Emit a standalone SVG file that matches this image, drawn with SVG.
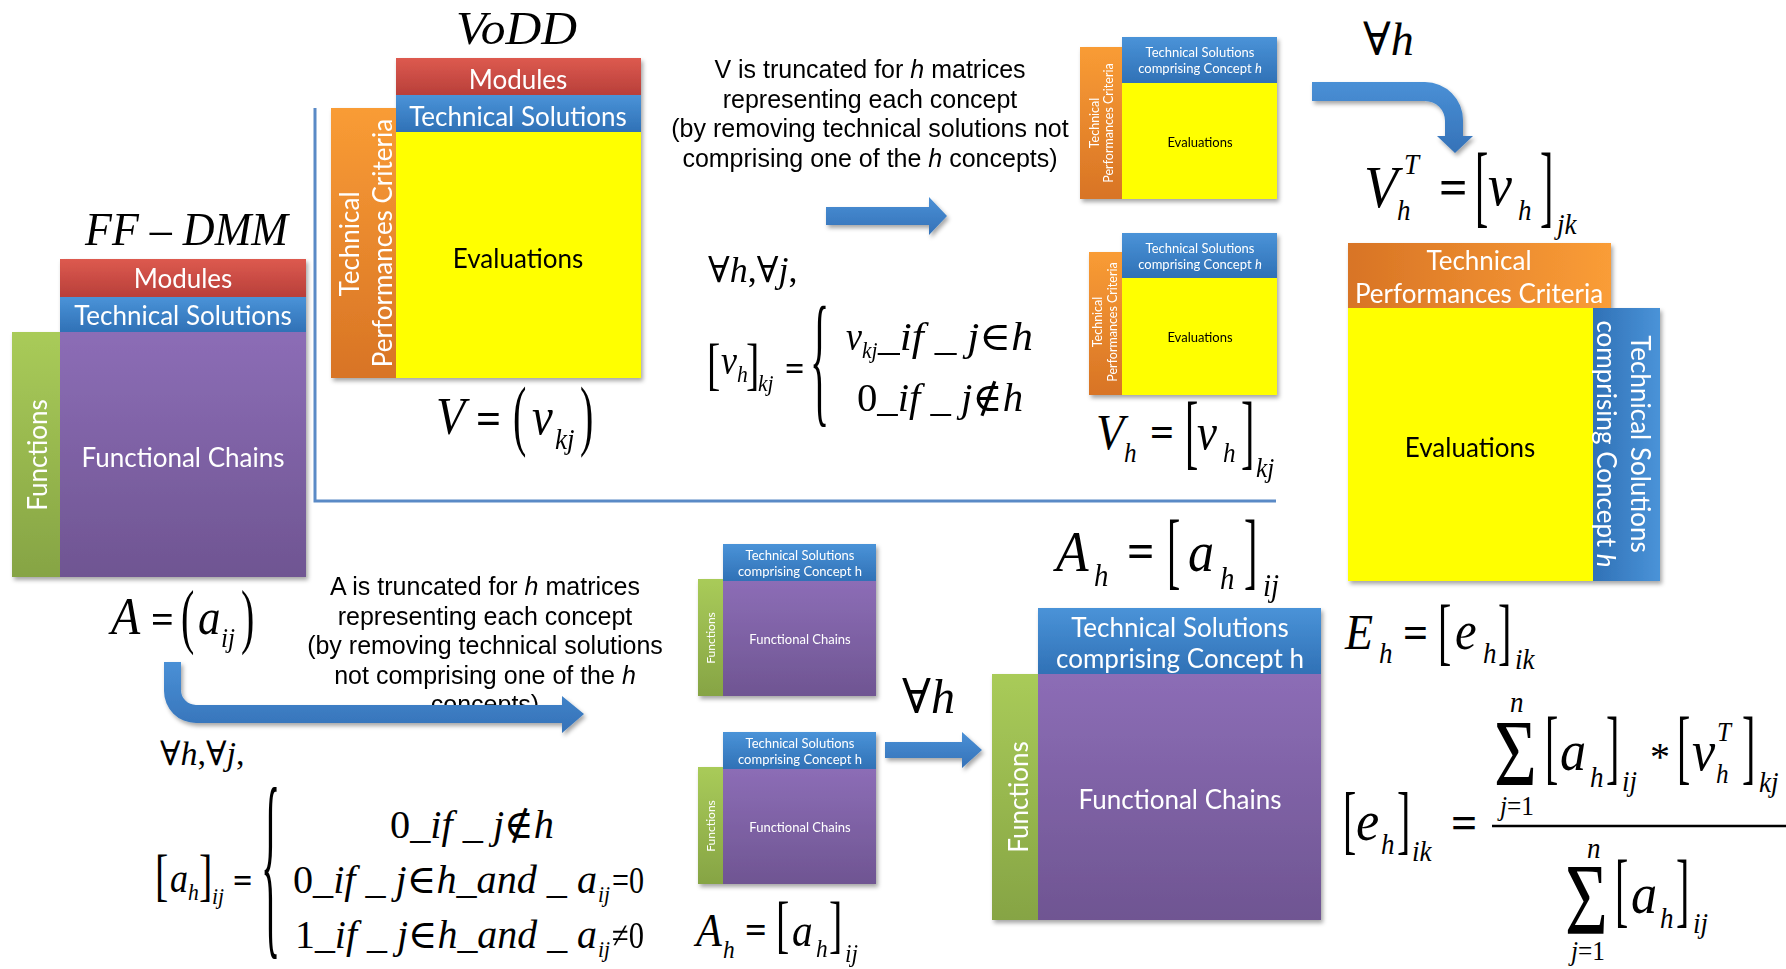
<svg xmlns="http://www.w3.org/2000/svg" width="1786" height="969" viewBox="0 0 1786 969">
<defs>
<style>
.bl{font-family:Lato,"Open Sans","Liberation Sans",sans-serif;fill:#fff;text-anchor:middle}
.bk{fill:#000}
.tx{font-family:"Liberation Sans",Arial,sans-serif;font-size:25px;fill:#000;text-anchor:middle}
.mi{font-family:"Liberation Serif","DejaVu Serif",serif;font-style:italic;fill:#000}
.mu{font-family:"Liberation Serif","DejaVu Serif",serif;fill:#000}
.eq{font-family:"Liberation Serif","DejaVu Serif",serif;font-weight:bold;fill:#000}
.d{font-family:"Liberation Serif","DejaVu Serif",serif;font-size:40px;fill:#000}
.it{font-style:italic}
.arrow{fill:url(#gArrow);filter:url(#sh)}
</style>
<linearGradient id="gRed" x1="0" y1="0" x2="0" y2="1"><stop offset="0" stop-color="#dd5a4f"/><stop offset="1" stop-color="#b83f3a"/></linearGradient>
<linearGradient id="gBlue" x1="0" y1="0" x2="0" y2="1"><stop offset="0" stop-color="#4a93d8"/><stop offset="1" stop-color="#3071b6"/></linearGradient>
<linearGradient id="gBlueH" x1="0" y1="0" x2="1" y2="0"><stop offset="0" stop-color="#3071b6"/><stop offset="1" stop-color="#4a93d8"/></linearGradient>
<linearGradient id="gPurple" x1="0" y1="0" x2="0" y2="1"><stop offset="0" stop-color="#8c6db6"/><stop offset="1" stop-color="#6f5592"/></linearGradient>
<linearGradient id="gGreen" x1="0" y1="0" x2="0" y2="1"><stop offset="0" stop-color="#a9cb59"/><stop offset="1" stop-color="#86a444"/></linearGradient>
<linearGradient id="gOrange" x1="0" y1="0" x2="0" y2="1"><stop offset="0" stop-color="#f99c35"/><stop offset="1" stop-color="#d87425"/></linearGradient>
<linearGradient id="gOrangeH" x1="0" y1="0" x2="1" y2="0"><stop offset="0" stop-color="#d87425"/><stop offset="1" stop-color="#fa9d37"/></linearGradient>
<linearGradient id="gArrow" x1="0" y1="0" x2="0" y2="1"><stop offset="0" stop-color="#4a90d6"/><stop offset="1" stop-color="#3572b8"/></linearGradient>
<filter id="sh" x="-10%" y="-10%" width="130%" height="130%"><feDropShadow dx="2" dy="3" stdDeviation="2" flood-color="#000" flood-opacity="0.35"/></filter>
</defs>
<rect width="1786" height="969" fill="#fff"/>

<!-- frame line -->
<polyline points="315,108 315,501 1276,501" fill="none" stroke="#5a8ac6" stroke-width="3"/>

<!-- FF-DMM block -->
<g id="ff-dmm" filter="url(#sh)">
<rect x="60" y="259" width="246" height="38" fill="url(#gRed)"/>
<rect x="60" y="297" width="246" height="35" fill="url(#gBlue)"/>
<rect x="12" y="332" width="48" height="245" fill="url(#gGreen)"/>
<rect x="60" y="332" width="246" height="245" fill="url(#gPurple)"/>
<text class="bl" font-size="26" x="183" y="288">Modules</text>
<text class="bl" font-size="26" x="183" y="325">Technical Solutions</text>
<text class="bl" font-size="26" x="183" y="467">Functional Chains</text>
<text class="bl" font-size="26" transform="translate(47 455) rotate(-90)">Functions</text>
</g>

<!-- VoDD block -->
<g id="vodd" filter="url(#sh)">
<rect x="396" y="58" width="245" height="37" fill="url(#gRed)"/>
<rect x="396" y="95" width="245" height="37" fill="url(#gBlue)"/>
<rect x="331" y="108" width="65" height="270" fill="url(#gOrange)"/>
<rect x="396" y="132" width="245" height="246" fill="#ffff00"/>
<text class="bl" font-size="26" x="518" y="89">Modules</text>
<text class="bl" font-size="26" x="518" y="126">Technical Solutions</text>
<text class="bl bk" font-size="26" x="518" y="268">Evaluations</text>
<text class="bl" font-size="26" transform="translate(359 244) rotate(-90)">Technical</text>
<text class="bl" font-size="26" transform="translate(392 243) rotate(-90)">Performances Criteria</text>
</g>

<!-- small VoDD h blocks -->
<g id="vodd-h1" filter="url(#sh)">
<rect x="1122" y="37" width="155" height="46" fill="url(#gBlue)"/>
<rect x="1080" y="47" width="42" height="152" fill="url(#gOrange)"/>
<rect x="1122" y="83" width="155" height="116" fill="#ffff00"/>
<text class="bl" font-size="13" x="1200" y="57">Technical Solutions</text>
<text class="bl" font-size="13" x="1200" y="73">comprising Concept <tspan class="it">h</tspan></text>
<text class="bl bk" font-size="13" x="1200" y="147">Evaluations</text>
<text class="bl" font-size="12.5" transform="translate(1099 123) rotate(-90)">Technical</text>
<text class="bl" font-size="12.5" transform="translate(1113 123) rotate(-90)">Performances Criteria</text>
</g>
<g id="vodd-h2" filter="url(#sh)">
<rect x="1122" y="233" width="155" height="45" fill="url(#gBlue)"/>
<rect x="1089" y="252" width="33" height="143" fill="url(#gOrange)"/>
<rect x="1122" y="278" width="155" height="117" fill="#ffff00"/>
<text class="bl" font-size="13" x="1200" y="253">Technical Solutions</text>
<text class="bl" font-size="13" x="1200" y="269">comprising Concept <tspan class="it">h</tspan></text>
<text class="bl bk" font-size="13" x="1200" y="342">Evaluations</text>
<text class="bl" font-size="12.5" transform="translate(1102 322) rotate(-90)">Technical</text>
<text class="bl" font-size="12.5" transform="translate(1117 322) rotate(-90)">Performances Criteria</text>
</g>

<!-- transposed block -->
<g id="vodd-t" filter="url(#sh)">
<rect x="1348" y="243" width="263" height="65" fill="url(#gOrangeH)"/>
<rect x="1348" y="308" width="245" height="273" fill="#ffff00"/>
<rect x="1593" y="308" width="67" height="273" fill="url(#gBlueH)"/>
<text class="bl" font-size="26" x="1479" y="270">Technical</text>
<text class="bl" font-size="26" x="1479" y="303">Performances Criteria</text>
<text class="bl bk" font-size="26" x="1470" y="457">Evaluations</text>
<text class="bl" font-size="26" transform="translate(1631 444) rotate(90)">Technical Solutions</text>
<text class="bl" font-size="26" transform="translate(1597 444) rotate(90)">comprising Concept <tspan class="it">h</tspan></text>
</g>

<!-- small FF h blocks -->
<g id="ff-h1" filter="url(#sh)">
<rect x="723" y="544" width="153" height="37" fill="url(#gBlue)"/>
<rect x="698" y="579" width="25" height="117" fill="url(#gGreen)"/>
<rect x="723" y="581" width="153" height="115" fill="url(#gPurple)"/>
<text class="bl" font-size="13" x="800" y="560">Technical Solutions</text>
<text class="bl" font-size="13" x="800" y="576">comprising Concept h</text>
<text class="bl" font-size="13" x="800" y="644">Functional Chains</text>
<text class="bl" font-size="12" transform="translate(715 638) rotate(-90)">Functions</text>
</g>
<g id="ff-h2" filter="url(#sh)">
<rect x="723" y="732" width="153" height="37" fill="url(#gBlue)"/>
<rect x="698" y="767" width="25" height="117" fill="url(#gGreen)"/>
<rect x="723" y="769" width="153" height="115" fill="url(#gPurple)"/>
<text class="bl" font-size="13" x="800" y="748">Technical Solutions</text>
<text class="bl" font-size="13" x="800" y="764">comprising Concept h</text>
<text class="bl" font-size="13" x="800" y="832">Functional Chains</text>
<text class="bl" font-size="12" transform="translate(715 826) rotate(-90)">Functions</text>
</g>

<!-- big FF h block -->
<g id="ff-h" filter="url(#sh)">
<rect x="1038" y="608" width="283" height="66" fill="url(#gBlue)"/>
<rect x="992" y="674" width="46" height="246" fill="url(#gGreen)"/>
<rect x="1038" y="674" width="283" height="246" fill="url(#gPurple)"/>
<text class="bl" font-size="26" x="1180" y="637">Technical Solutions</text>
<text class="bl" font-size="26" x="1180" y="668">comprising Concept h</text>
<text class="bl" font-size="26" x="1180" y="809">Functional Chains</text>
<text class="bl" font-size="26" transform="translate(1028 797) rotate(-90)">Functions</text>
</g>

<!-- explanatory texts -->
<g id="note-v">
<text class="tx" x="870" y="78">V is truncated for <tspan class="it">h</tspan> matrices</text>
<text class="tx" x="870" y="107.5">representing each concept</text>
<text class="tx" x="870" y="137">(by removing technical solutions not</text>
<text class="tx" x="870" y="166.5">comprising one of the <tspan class="it">h</tspan> concepts)</text>
</g>
<g id="note-a">
<text class="tx" x="485" y="595">A is truncated for <tspan class="it">h</tspan> matrices</text>
<text class="tx" x="485" y="624.5">representing each concept</text>
<text class="tx" x="485" y="654">(by removing technical solutions</text>
<text class="tx" x="485" y="683.5">not comprising one of the <tspan class="it">h</tspan></text>
<text class="tx" x="485" y="713">concepts)</text>
</g>

<!-- titles -->
<text id="t-ffdmm" class="mi" font-size="46" x="85" y="245" textLength="203" lengthAdjust="spacingAndGlyphs">FF – DMM</text>
<text id="t-vodd" class="mi" font-size="46" x="456" y="44" textLength="121" lengthAdjust="spacingAndGlyphs">VoDD</text>

<!-- V = (v_kj) -->
<g id="f-V">
<text class="mi" font-size="52" transform="translate(436 434) scale(.92 1)">V</text>
<text class="eq" font-size="44" x="476" y="433">=</text>
<text class="d" transform="translate(513 441) scale(1 1.94)">(</text>
<text class="mi" font-size="52" transform="translate(532 434) scale(.9 1)">v</text>
<text class="mi" font-size="30" transform="translate(555 449) scale(.9 1)">kj</text>
<text class="d" transform="translate(580 441) scale(1 1.94)">)</text>
</g>

<!-- A = (a_ij) -->
<g id="f-A">
<text class="mi" font-size="52" transform="translate(111 634) scale(.92 1)">A</text>
<text class="eq" font-size="40" x="151" y="633">=</text>
<text class="d" transform="translate(181 640) scale(1 1.78)">(</text>
<text class="mi" font-size="50" transform="translate(198 634) scale(.9 1)">a</text>
<text class="mi" font-size="28" transform="translate(221 647) scale(.9 1)">ij</text>
<text class="d" transform="translate(241 640) scale(1 1.78)">)</text>
</g>

<!-- top case formula -->
<g id="f-vh-cases">
<text class="mu" font-size="36" x="708" y="282">∀<tspan class="it">h</tspan>,∀<tspan class="it">j</tspan>,</text>
<text class="d" transform="translate(707 383) scale(1 1.44)">[</text>
<text class="mi" font-size="40" transform="translate(721 374) scale(.9 1)">v</text>
<text class="mi" font-size="24" transform="translate(737 382) scale(.9 1)">h</text>
<text class="d" transform="translate(746 383) scale(1 1.44)">]</text>
<text class="mi" font-size="24" transform="translate(758 391) scale(.9 1)">kj</text>
<text class="eq" font-size="34" x="785" y="380">=</text>
<text class="d" transform="translate(810 407) scale(1 3.63)">{</text>
<text class="mi" font-size="40" transform="translate(846 350) scale(.9 1)">v</text>
<text class="mi" font-size="24" transform="translate(862 358) scale(.9 1)">kj</text>
<text class="mi" font-size="40" x="878" y="350" textLength="155" lengthAdjust="spacingAndGlyphs">_if _ j<tspan class="mu" font-style="normal">∈</tspan>h</text>
<text class="mi" font-size="40" x="857" y="411" textLength="166" lengthAdjust="spacingAndGlyphs"><tspan font-style="normal">0</tspan>_if _ j<tspan font-style="normal">∉</tspan>h</text>
</g>

<!-- V_h = [v_h]_kj -->
<g id="f-Vh">
<text class="mi" font-size="50" transform="translate(1096 449) scale(.92 1)">V</text>
<text class="mi" font-size="28" transform="translate(1124 462) scale(.9 1)">h</text>
<text class="eq" font-size="42" x="1150" y="446">=</text>
<text class="d" transform="translate(1185 459) scale(1 2.05)">[</text>
<text class="mi" font-size="50" transform="translate(1197 449) scale(.9 1)">v</text>
<text class="mi" font-size="28" transform="translate(1223 462) scale(.9 1)">h</text>
<text class="d" transform="translate(1241 459) scale(1 2.05)">]</text>
<text class="mi" font-size="28" transform="translate(1256 477) scale(.9 1)">kj</text>
</g>

<!-- forall h top -->
<text id="f-forall1" class="mu" font-size="46" x="1363" y="55">∀<tspan class="it">h</tspan></text>

<!-- V_h^T -->
<g id="f-VhT">
<text class="mi" font-size="60" transform="translate(1364 207) scale(.92 1)">V</text>
<text class="mi" font-size="30" transform="translate(1404 174) scale(.9 1)">T</text>
<text class="mi" font-size="30" transform="translate(1397 220) scale(.9 1)">h</text>
<text class="eq" font-size="50" x="1439" y="204">=</text>
<text class="d" transform="translate(1475 216) scale(1 2.26)">[</text>
<text class="mi" font-size="60" transform="translate(1488 205) scale(.9 1)">v</text>
<text class="mi" font-size="30" transform="translate(1518 220) scale(.9 1)">h</text>
<text class="d" transform="translate(1540 216) scale(1 2.26)">]</text>
<text class="mi" font-size="30" transform="translate(1557 234) scale(.9 1)">jk</text>
</g>

<!-- E_h -->
<g id="f-Eh">
<text class="mi" font-size="50" transform="translate(1345 649) scale(.92 1)">E</text>
<text class="mi" font-size="30" transform="translate(1379 663) scale(.9 1)">h</text>
<text class="eq" font-size="44" x="1403" y="647">=</text>
<text class="d" transform="translate(1438 656) scale(1 1.87)">[</text>
<text class="mi" font-size="54" transform="translate(1455 649) scale(.9 1)">e</text>
<text class="mi" font-size="30" transform="translate(1483 663) scale(.9 1)">h</text>
<text class="d" transform="translate(1498 656) scale(1 1.87)">]</text>
<text class="mi" font-size="30" transform="translate(1515 669) scale(.9 1)">ik</text>
</g>

<!-- A_h big -->
<g id="f-Ah-big">
<text class="mi" font-size="58" transform="translate(1056 571) scale(.92 1)">A</text>
<text class="mi" font-size="32" transform="translate(1094 586) scale(.9 1)">h</text>
<text class="eq" font-size="48" x="1127" y="567">=</text>
<text class="d" transform="translate(1167 579) scale(1 2.14)">[</text>
<text class="mi" font-size="58" transform="translate(1188 571) scale(.9 1)">a</text>
<text class="mi" font-size="32" transform="translate(1220 589) scale(.9 1)">h</text>
<text class="d" transform="translate(1244 579) scale(1 2.14)">]</text>
<text class="mi" font-size="32" transform="translate(1263 596) scale(.9 1)">ij</text>
</g>

<!-- A_h small -->
<g id="f-Ah-small">
<text class="mi" font-size="46" transform="translate(696 946) scale(.92 1)">A</text>
<text class="mi" font-size="26" transform="translate(723 958) scale(.9 1)">h</text>
<text class="eq" font-size="38" x="745" y="943">=</text>
<text class="d" transform="translate(776 945) scale(1 1.59)">[</text>
<text class="mi" font-size="46" transform="translate(792 946) scale(.9 1)">a</text>
<text class="mi" font-size="26" transform="translate(816 957) scale(.9 1)">h</text>
<text class="d" transform="translate(829 945) scale(1 1.59)">]</text>
<text class="mi" font-size="26" transform="translate(845 962) scale(.9 1)">ij</text>
</g>

<!-- bottom case formula -->
<g id="f-ah-cases">
<text class="mu" font-size="34" x="160" y="765">∀<tspan class="it">h</tspan>,∀<tspan class="it">j</tspan>,</text>
<text class="d" transform="translate(155 894) scale(1 1.44)">[</text>
<text class="mi" font-size="40" transform="translate(170 892) scale(.9 1)">a</text>
<text class="mi" font-size="24" transform="translate(188 900) scale(.9 1)">h</text>
<text class="d" transform="translate(199 894) scale(1 1.44)">]</text>
<text class="mi" font-size="24" transform="translate(212 904) scale(.9 1)">ij</text>
<text class="eq" font-size="34" x="233" y="892">=</text>
<text class="d" transform="translate(261 931) scale(1 5.17)">{</text>
<text class="mi" font-size="40" x="390" y="838" textLength="164" lengthAdjust="spacingAndGlyphs"><tspan font-style="normal">0</tspan>_if _ j<tspan font-style="normal">∉</tspan>h</text>
<text class="mi" font-size="40" x="293" y="893" textLength="304" lengthAdjust="spacingAndGlyphs"><tspan font-style="normal">0</tspan>_if _ j<tspan font-style="normal">∈</tspan>h_and _ a</text>
<text class="mi" font-size="24" transform="translate(598 902) scale(.9 1)">ij</text>
<text class="mu" font-size="38" x="612" y="893" textLength="32" lengthAdjust="spacingAndGlyphs">=0</text>
<text class="mi" font-size="40" x="295" y="948" textLength="302" lengthAdjust="spacingAndGlyphs"><tspan font-style="normal">1</tspan>_if _ j<tspan font-style="normal">∈</tspan>h_and _ a</text>
<text class="mi" font-size="24" transform="translate(598 957) scale(.9 1)">ij</text>
<text class="mu" font-size="38" x="612" y="948" textLength="32" lengthAdjust="spacingAndGlyphs">≠0</text>
</g>

<!-- forall h bottom -->
<text id="f-forall2" class="mu" font-size="48" x="902" y="713">∀<tspan class="it">h</tspan></text>

<!-- fraction -->
<g id="f-eh">
<text class="d" transform="translate(1343 845) scale(1 1.9)">[</text>
<text class="mi" font-size="58" transform="translate(1356 840) scale(.9 1)">e</text>
<text class="mi" font-size="30" transform="translate(1381 854) scale(.9 1)">h</text>
<text class="d" transform="translate(1397 845) scale(1 1.9)">]</text>
<text class="mi" font-size="30" transform="translate(1412 861) scale(.9 1)">ik</text>
<text class="eq" font-size="46" x="1451" y="838">=</text>
<line x1="1492" y1="826" x2="1786" y2="826" stroke="#000" stroke-width="2.5"/>
<text class="mi" font-size="30" transform="translate(1510 712) scale(.9 1)">n</text>
<text class="mu" font-size="64" transform="translate(1494 786) scale(1.15 1.5)">Σ</text>
<text class="mi" font-size="28" x="1500" y="815" textLength="34" lengthAdjust="spacingAndGlyphs">j<tspan font-style="normal">=1</tspan></text>
<text class="d" transform="translate(1545 774) scale(1 2.05)">[</text>
<text class="mi" font-size="58" transform="translate(1560 770) scale(.9 1)">a</text>
<text class="mi" font-size="30" transform="translate(1590 787) scale(.9 1)">h</text>
<text class="d" transform="translate(1606 774) scale(1 2.05)">]</text>
<text class="mi" font-size="30" transform="translate(1622 791) scale(.9 1)">ij</text>
<text class="mu" font-size="40" x="1650" y="770">*</text>
<text class="d" transform="translate(1677 774) scale(1 2.05)">[</text>
<text class="mi" font-size="58" transform="translate(1692 770) scale(.9 1)">v</text>
<text class="mi" font-size="28" transform="translate(1717 741) scale(.9 1)">T</text>
<text class="mi" font-size="28" transform="translate(1716 783) scale(.9 1)">h</text>
<text class="d" transform="translate(1742 774) scale(1 2.05)">]</text>
<text class="mi" font-size="30" transform="translate(1759 792) scale(.9 1)">kj</text>
<text class="mi" font-size="30" transform="translate(1587 858) scale(.9 1)">n</text>
<text class="mu" font-size="64" transform="translate(1565 934) scale(1.15 1.6)">Σ</text>
<text class="mi" font-size="28" x="1571" y="960" textLength="34" lengthAdjust="spacingAndGlyphs">j<tspan font-style="normal">=1</tspan></text>
<text class="d" transform="translate(1615 917) scale(1 2.08)">[</text>
<text class="mi" font-size="58" transform="translate(1631 913) scale(.9 1)">a</text>
<text class="mi" font-size="30" transform="translate(1660 928) scale(.9 1)">h</text>
<text class="d" transform="translate(1676 917) scale(1 2.08)">]</text>
<text class="mi" font-size="30" transform="translate(1693 933) scale(.9 1)">ij</text>
</g>

<!-- connectors (block arrows) -->
<g id="connectors">
<path class="arrow" d="M826,207 H929 V197 L947,216 L929,235 V225 H826 Z"/>
<path class="arrow" d="M1312,82 H1425 A38,38 0 0 1 1463,120 V136 H1473 L1455,153 L1437,136 H1445 V121 A20,20 0 0 0 1425,101 H1312 Z"/>
<path class="arrow" d="M164,662 H181 V690 A15,15 0 0 0 196,705 H562 V696 L584,714 L562,733 V723 H196 A32,32 0 0 1 164,691 Z"/>
<path class="arrow" d="M885,742 H962 V732 L982,750 L962,768 V758 H885 Z"/>
</g>
</svg>
